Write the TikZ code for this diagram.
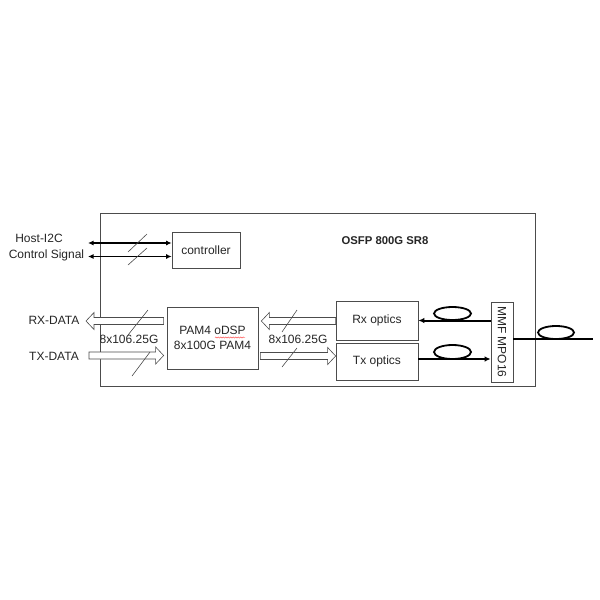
\documentclass[tikz,border=0pt]{standalone}
\usepackage{fontspec}
\setmainfont{Liberation Sans}
\usetikzlibrary{calc,arrows.meta,decorations.pathmorphing}
\newcommand\blockarrow[2]{%
  \draw[barrow] let \p1=#1, \p2=#2, \n1={sign(\x2-\x1)} in
    (\x1,{\y1+3.5pt}) -- ({\x2-\n1*8pt},{\y1+3.5pt}) -- ({\x2-\n1*8pt},{\y1+8.5pt})
    -- (\x2,\y1) -- ({\x2-\n1*8pt},{\y1-8.5pt}) -- ({\x2-\n1*8pt},{\y1-3.5pt})
    -- (\x1,{\y1-3.5pt}) -- cycle;}
\begin{document}
\begin{tikzpicture}[x=1pt,y=-1pt,
  txt/.style={font=\fontsize{12}{14.5}\selectfont, text=black!85},
  box/.style={draw=black!70, line width=0.7pt, inner sep=0pt, txt},
  lbl/.style={inner sep=0pt, txt},
  sig/.style={line width=1.3pt, {Latex[length=5.5pt,width=5pt]}-{Latex[length=5.5pt,width=5pt]}},
  fib/.style={line width=2pt},
  fibarr/.style={fib, -{Latex[length=6pt,width=5.5pt]}},
  loop/.style={line width=1.8pt},
  slash/.style={draw=black!70, line width=0.6pt},
  barrow/.style={draw=black!70, line width=0.6pt, fill=white},
]
\useasboundingbox (0,0) rectangle (600,600);
\fill[white] (0,0) rectangle (600,600);

% outer module
\node[box, minimum width=435, minimum height=173] (outer) at (317.5,299.5) {};
\node[lbl, font=\fontsize{11.3}{14}\selectfont\bfseries] (title) at (385,241) {OSFP 800G SR8};

% inner blocks
\node[box, minimum width=68, minimum height=36] (ctrl) at (206,250) {controller};
\node[box, minimum width=91, minimum height=62, align=center] (dsp) at (212.5,338)
  {PAM4 oDSP\\8x100G PAM4};
\node[box, minimum width=82, minimum height=39] (rx) at (377,320.5) {Rx optics};
\node[box, minimum width=82, minimum height=37] (tx) at (377,361.5) {Tx optics};
\node[box, minimum width=22, minimum height=80] (mpo) at (502,342) {};
\node[lbl, rotate=-90] (mpotxt) at (mpo.center) {MMF MPO16};

% host labels
\node[lbl] (host) at (39,238.5) {Host-I2C};
\node[lbl] (csig) at (46.5,255.5) {Control Signal};
\coordinate (h1) at (88,243);
\coordinate (h2) at (88,256.5);
\draw[sig] (h1) -- (ctrl.west |- h1);
\draw[sig] (h2) -- (ctrl.west |- h2);
\draw[slash] (128,252) -- (147,234);
\draw[slash] (128,265) -- (147,248);

% host data
\node[lbl] (rxdata) at (54,320.5) {RX-DATA};
\node[lbl] (txdata) at (54,356) {TX-DATA};
\coordinate (rxend) at (86,321);
\coordinate (txstart) at (89,355.5);
\blockarrow{($(dsp.west |- rxend)+(-3,0)$)}{(rxend)}
\blockarrow{(txstart)}{($(dsp.west |- txstart)+(-3,0)$)}
\draw[slash] (128,335) -- (148,310);
\draw[slash] (132,376) -- (150,352);
\node[lbl] (lab1) at (129,339) {8x106.25G};

% dsp to optics
\coordinate (mrx) at (0,321);
\coordinate (mtx) at (0,356);
\blockarrow{(rx.west |- mrx)}{($(dsp.east |- mrx)+(3,0)$)}
\blockarrow{($(dsp.east |- mtx)+(2,0)$)}{(tx.west |- mtx)}
\draw[slash] (282,332) -- (297,310);
\draw[slash] (282,367) -- (297,348);
\node[lbl] (lab2) at (298,339) {8x106.25G};

% fibers
\coordinate (rxf) at (0,320.5);
\coordinate (txf) at (0,359);
\draw[fibarr] (mpo.west |- rxf) -- (rx.east |- rxf);
\draw[fibarr] (tx.east |- txf) -- (mpo.west |- txf);
\draw[loop] (452.5,313.5) ellipse (18.5 and 6.5);
\draw[loop] (452.5,352) ellipse (18.5 and 7);
\coordinate (out) at (593,339);
\draw[fib] (mpo.east |- out) -- (out);
\draw[loop] (556,332.5) ellipse (18 and 6.5);

% spell-check underline
\draw[red!80, line width=0.4pt, decorate, decoration={snake, amplitude=0.6pt, segment length=2.5pt}]
  (215,337.5) -- (245,337.5);
\end{tikzpicture}
\end{document}
